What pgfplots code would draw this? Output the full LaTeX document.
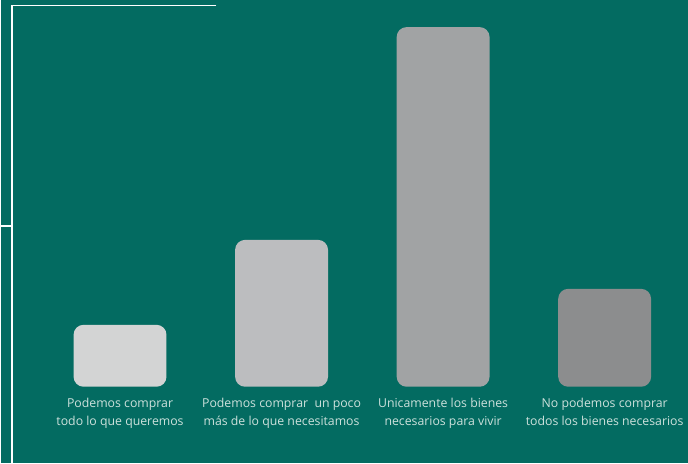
\documentclass[border=0pt]{standalone}
\usepackage{pgfplots}
\pgfplotsset{compat=1.18}
\usepackage{fontspec}
\setmainfont{Open Sans}

\definecolor{bgteal}{RGB}{3,107,97}
\definecolor{txt}{RGB}{205,225,220}
\definecolor{barA}{RGB}{211,212,212}
\definecolor{barB}{RGB}{188,189,191}
\definecolor{barC}{RGB}{161,163,164}
\definecolor{barD}{RGB}{140,141,142}

\begin{document}
\begin{tikzpicture}
\begin{axis}[
    scale only axis,
    width=688pt, height=463pt,
    xmin=-0.739, xmax=3.516,
    ymin=-11.4, ymax=58.05,
    axis background/.style={fill=bgteal},
    axis line style={draw=none},
    ytick=\empty,
    xtick={0,1,2,3},
    xticklabels={{Podemos comprar\\todo lo que queremos},
                 {Podemos comprar\ \ un poco\\más de lo que necesitamos},
                 {Unicamente los bienes\\necesarios para vivir},
                 {No podemos comprar\\todos los bienes necesarios}},
    xticklabel style={align=center, font=\fontsize{12.3}{18}\selectfont,
                      text=txt, anchor=north, yshift=68pt},
    major tick length=0pt,
    ybar, bar width=93pt, bar shift=0pt,
    clip=false,
]
\addplot[fill=barA, draw=none, rounded corners=10pt] coordinates {(0,9.3)};
\addplot[fill=barB, draw=none, rounded corners=10pt] coordinates {(1,22.05)};
\addplot[fill=barC, draw=none, rounded corners=10pt] coordinates {(2,54.0)};
\addplot[fill=barD, draw=none, rounded corners=10pt] coordinates {(3,14.7)};

\draw[white, line width=1.3pt]
    (rel axis cs:0.3140,0.9881) -- (rel axis cs:0.0167,0.9881)
    -- (rel axis cs:0.0167,0);
\draw[white, line width=1.3pt]
    (rel axis cs:0,0.5119) -- (rel axis cs:0.0167,0.5119);
\end{axis}
\end{tikzpicture}
\end{document}
